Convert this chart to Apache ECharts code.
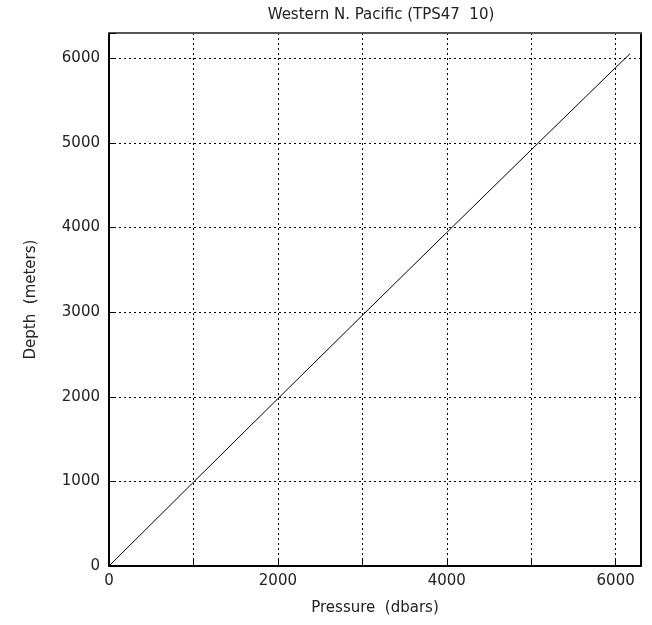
<!DOCTYPE html>
<html>
<head>
<meta charset="utf-8">
<script src="https://cdn.jsdelivr.net/npm/echarts@6/dist/echarts.min.js"></script>
<style>
  html, body { margin: 0; padding: 0; background: #fff; }
  #chart { width: 652px; height: 625px; }
</style>
</head>
<body>
<div id="chart"></div>
<script>
// Pressure (dbars) and corresponding depth (meters), Western N. Pacific profile
const pressure = [0, 1000, 2000, 3000, 4000, 5000, 6000, 6170];
const depth    = [0, 991, 1978, 2962, 3942, 4919, 5892, 6055];
const axisTicks = [0, 2000, 4000, 6000];

const titleText = 'Western N. Pacific (TPS47  10)';
const xName = 'Pressure  (dbars)';
const yName = 'Depth  (meters)';

const font = 'DejaVu Sans, Liberation Sans, sans-serif';
const chart = echarts.init(document.getElementById('chart'), null, { renderer: 'canvas' });

const points = pressure.map((p, i) => [p, depth[i]]);

chart.setOption({
  animation: false,
  backgroundColor: '#ffffff',
  title: {
    text: titleText,
    left: 376, top: 3, textAlign: 'center',
    textStyle: { fontFamily: font, fontSize: 15, fontWeight: 'normal', color: '#222' }
  },
  grid: { left: 109, right: 11, top: 33, bottom: 59 },
  xAxis: [{
    type: 'value', min: 0, max: 6300, interval: 1000,
    name: xName, nameLocation: 'middle', nameGap: 35,
    nameTextStyle: { fontFamily: font, fontSize: 15, color: '#222' },
    axisLine: { show: true, onZero: false, lineStyle: { color: '#000', width: 2 } },
    axisTick: { show: true, inside: true, length: 6, lineStyle: { color: '#000', width: 1 } },
    axisLabel: {
      fontFamily: font, fontSize: 15, color: '#222', margin: 8,
      formatter: v => axisTicks.includes(v) ? String(v) : ''
    },
    splitLine: { show: true, lineStyle: { color: '#000', type: [2, 3], width: 1 } }
  }, {
    type: 'value', position: 'top', min: 0, max: 6300,
    axisLine: { show: true, onZero: false, lineStyle: { color: '#555', width: 2 } },
    axisTick: { show: false }, axisLabel: { show: false }, splitLine: { show: false }
  }],
  yAxis: [{
    type: 'value', min: 0, max: 6300, interval: 1000,
    name: yName, nameLocation: 'middle', nameGap: 70, nameRotate: 90,
    nameTextStyle: { fontFamily: font, fontSize: 15, color: '#222' },
    axisLine: { show: true, onZero: false, lineStyle: { color: '#000', width: 2 } },
    axisTick: { show: true, inside: true, length: 7, lineStyle: { color: '#000', width: 1 } },
    axisLabel: {
      fontFamily: font, fontSize: 15, color: '#222', margin: 9,
      formatter: v => (v % 1000 === 0 && v <= 6000) ? String(v) : ''
    },
    splitLine: { show: true, lineStyle: { color: '#000', type: [2, 3], width: 1 } }
  }, {
    type: 'value', position: 'right', min: 0, max: 6300,
    axisLine: { show: true, onZero: false, lineStyle: { color: '#000', width: 2 } },
    axisTick: { show: false }, axisLabel: { show: false }, splitLine: { show: false }
  }],
  series: [{
    type: 'line',
    data: points,
    showSymbol: false,
    lineStyle: { color: '#000', width: 1 }
  }]
});
</script>
</body>
</html>
